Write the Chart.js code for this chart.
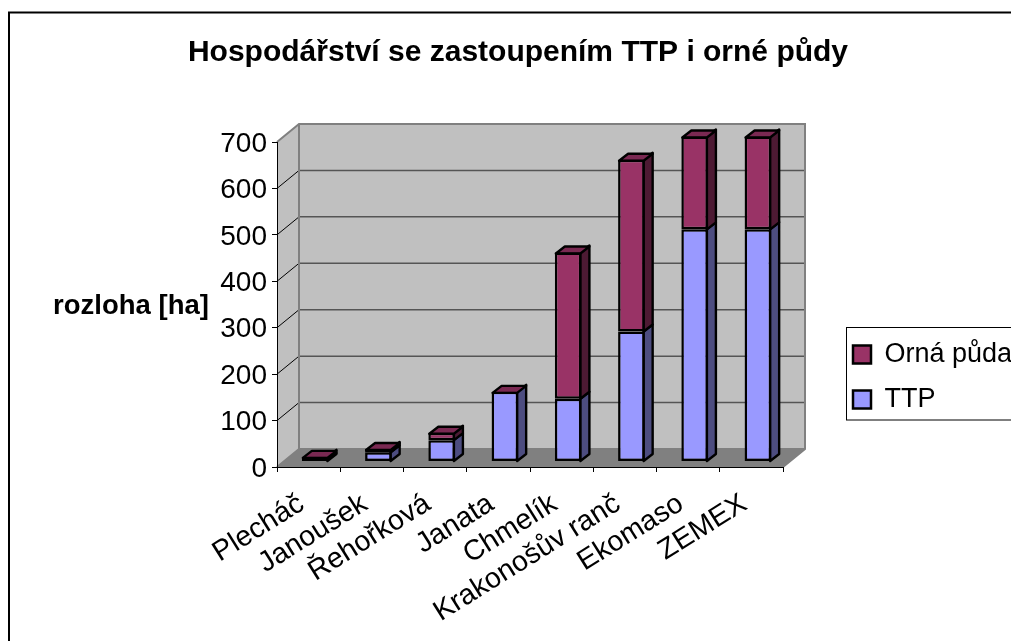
<!DOCTYPE html>
<html><head><meta charset="utf-8">
<style>html,body{margin:0;padding:0;background:#fff;overflow:hidden}canvas{display:block}</style>
<script src="https://cdn.jsdelivr.net/npm/chart.js@4"></script>
</head><body><canvas id="c" width="1011" height="641"></canvas>
<script>
const categories = ["Plecháč","Janoušek","Řehořková","Janata","Chmelík","Krakonošův ranč","Ekomaso","ZEMEX"];
const ttp = [3,20,46,150,135,280,500,500];
const ornaPuda = [7,7,16,0,315,370,200,200];
const chartTitle = "Hospodářství se zastoupením TTP i orné půdy";
const yTitle = "rozloha [ha]";
const FONT = '"Liberation Sans", Arial, sans-serif';
const WALL = {dx:22, dy:-18};         // depth of the whole plot box
const BAR = {ox:6.5, oy:-5.5, dx:9, dy:-7}; // bar offset and bar depth

function poly(ctx, pts, fill, stroke, lw){
  ctx.beginPath();
  pts.forEach((p,i)=> i?ctx.lineTo(p[0],p[1]):ctx.moveTo(p[0],p[1]));
  ctx.closePath();
  if(fill){ctx.fillStyle=fill;ctx.fill();}
  if(stroke){ctx.strokeStyle=stroke;ctx.lineWidth=lw;ctx.lineJoin='round';ctx.stroke();}
}
const box3d = {
  id:'box3d',
  afterLayout(chart){
    const l = chart.legend;
    l.left=835; l.right=1040; l.top=323; l.bottom=520;
    const t = chart.titleBlock;
    t.left=25; t.right=1011;
  },
  beforeDraw(chart){
    const {ctx,chartArea:a,scales:{y}} = chart;
    ctx.save();
    ctx.fillStyle='#fff';ctx.fillRect(0,0,chart.width,chart.height);
    // frame
    ctx.strokeStyle='#000';ctx.lineWidth=2;
    ctx.strokeRect(9,12.5,1040,700);
    const d=WALL;
    // side wall + back wall + floor
    poly(ctx,[[a.left,a.top],[a.left+d.dx,a.top+d.dy],[a.left+d.dx,a.bottom+d.dy],[a.left,a.bottom]],'#C0C0C0');
    poly(ctx,[[a.left+d.dx,a.top+d.dy],[a.right+d.dx,a.top+d.dy],[a.right+d.dx,a.bottom+d.dy],[a.left+d.dx,a.bottom+d.dy]],'#C0C0C0');
    poly(ctx,[[a.left,a.bottom],[a.left+d.dx,a.bottom+d.dy],[a.right+d.dx,a.bottom+d.dy],[a.right,a.bottom]],'#808080');
    // grid lines
    y.ticks.forEach(t=>{
      if(t.value===0||t.value===700) return;
      const py=y.getPixelForValue(t.value);
      ctx.strokeStyle='#000';ctx.lineWidth=1;
      ctx.beginPath();ctx.moveTo(a.left,py);ctx.lineTo(a.left+d.dx,py+d.dy);ctx.stroke();
      ctx.strokeStyle='#555';ctx.lineWidth=1.5;
      ctx.beginPath();ctx.moveTo(a.left+d.dx,py+d.dy);ctx.lineTo(a.right+d.dx,py+d.dy);ctx.stroke();
    });
    // wall borders
    ctx.strokeStyle='#808080';ctx.lineWidth=2;
    ctx.beginPath();
    ctx.moveTo(a.left,a.top);ctx.lineTo(a.left+d.dx,a.top+d.dy);ctx.lineTo(a.right+d.dx,a.top+d.dy);
    ctx.lineTo(a.right+d.dx,a.bottom+d.dy);ctx.lineTo(a.right,a.bottom);
    ctx.moveTo(a.left+d.dx,a.top+d.dy);ctx.lineTo(a.left+d.dx,a.bottom+d.dy);ctx.lineTo(a.right+d.dx,a.bottom+d.dy);
    ctx.moveTo(a.left+d.dx,a.bottom+d.dy);ctx.lineTo(a.left,a.bottom);
    ctx.stroke();
    // legend box
    ctx.fillStyle='#fff';ctx.fillRect(847,327.5,200,92.5);
    ctx.strokeStyle='#000';ctx.lineWidth=1;ctx.strokeRect(846.5,327.5,200,92.5);
    // y title (horizontal)
    ctx.fillStyle='#000';ctx.font='bold 27.5px '+FONT;ctx.textAlign='center';ctx.textBaseline='middle';
    ctx.fillText(yTitle,131,306);
    ctx.restore();
  },
  beforeDatasetsDraw(chart){
    const {ctx}=chart;
    ctx.save();
    ctx.translate(BAR.ox,BAR.oy);
    const metas=[chart.getDatasetMeta(0),chart.getDatasetMeta(1)];
    categories.forEach((_,i)=>{
      metas.forEach((m,k)=>{
        const el=m.data[i], v=chart.data.datasets[k].data[i];
        if(!v) return;
        const r=el.x+el.width/2-1, top=Math.min(el.y,el.base), bot=Math.max(el.y,el.base);
        poly(ctx,[[r,top],[r+BAR.dx,top+BAR.dy],[r+BAR.dx,bot+BAR.dy],[r,bot]],chart.data.datasets[k].sideColor,'#000',2.4);
      });
      // top face, always in the colour of the upper series
      const el=metas[1].data[i], l=el.x-el.width/2+1, r=el.x+el.width/2-1;
      poly(ctx,[[l,el.y+1],[l+BAR.dx,el.y+1+BAR.dy],[r+BAR.dx,el.y+1+BAR.dy],[r,el.y+1]],chart.data.datasets[1].topColor,'#000',2.4);
    });
  },
  afterDatasetsDraw(chart){ chart.ctx.restore(); }
};
new Chart(document.getElementById('c'),{
  type:'bar',
  data:{labels:categories,datasets:[
    {label:'TTP',data:ttp,backgroundColor:'#9999FF',sideColor:'#4D4D80',topColor:'#7A7ACC',borderColor:'#000',borderWidth:2.5,borderSkipped:false,stack:'s'},
    {label:'Orná půda',data:ornaPuda,backgroundColor:'#993366',sideColor:'#4D1A33',topColor:'#7A2952',borderColor:'#000',borderWidth:2.5,borderSkipped:false,stack:'s'}
  ]},
  plugins:[box3d],
  options:{
    responsive:false,animation:false,
    devicePixelRatio:1,
    layout:{padding:{left:25,right:228,top:0,bottom:0}},
    datasets:{bar:{barPercentage:0.42,categoryPercentage:1}},
    plugins:{
      tooltip:{enabled:false},
      title:{display:true,text:chartTitle,color:'#000',font:{family:FONT,size:30,weight:'bold'},padding:{top:35,bottom:71},fullSize:true},
      legend:{position:'chartArea',align:'start',reverse:true,
        labels:{color:'#000',font:{family:FONT,size:27},boxWidth:18,boxHeight:18,padding:18}}
    },
    scales:{
      x:{stacked:true,
        afterFit(s){s.height=174;},
        grid:{drawOnChartArea:false,drawTicks:true,tickLength:5,color:'#000',tickColor:'#000',tickWidth:1},
        border:{display:true,color:'#000',width:1},
        ticks:{color:'#000',autoSkip:false,minRotation:32,maxRotation:32,font:{family:FONT,size:28.5},padding:15,labelOffset:-7}
      },
      y:{stacked:true,min:0,max:700,
        afterFit(s){s.width=252;},
        grid:{drawOnChartArea:false,drawTicks:true,tickLength:5,color:'#000',tickColor:'#000',tickWidth:1},
        border:{display:true,color:'#000',width:1},
        ticks:{color:'#000',stepSize:100,font:{family:FONT,size:28},padding:5,labelOffset:2}
      }
    }
  }
});
</script></body></html>
